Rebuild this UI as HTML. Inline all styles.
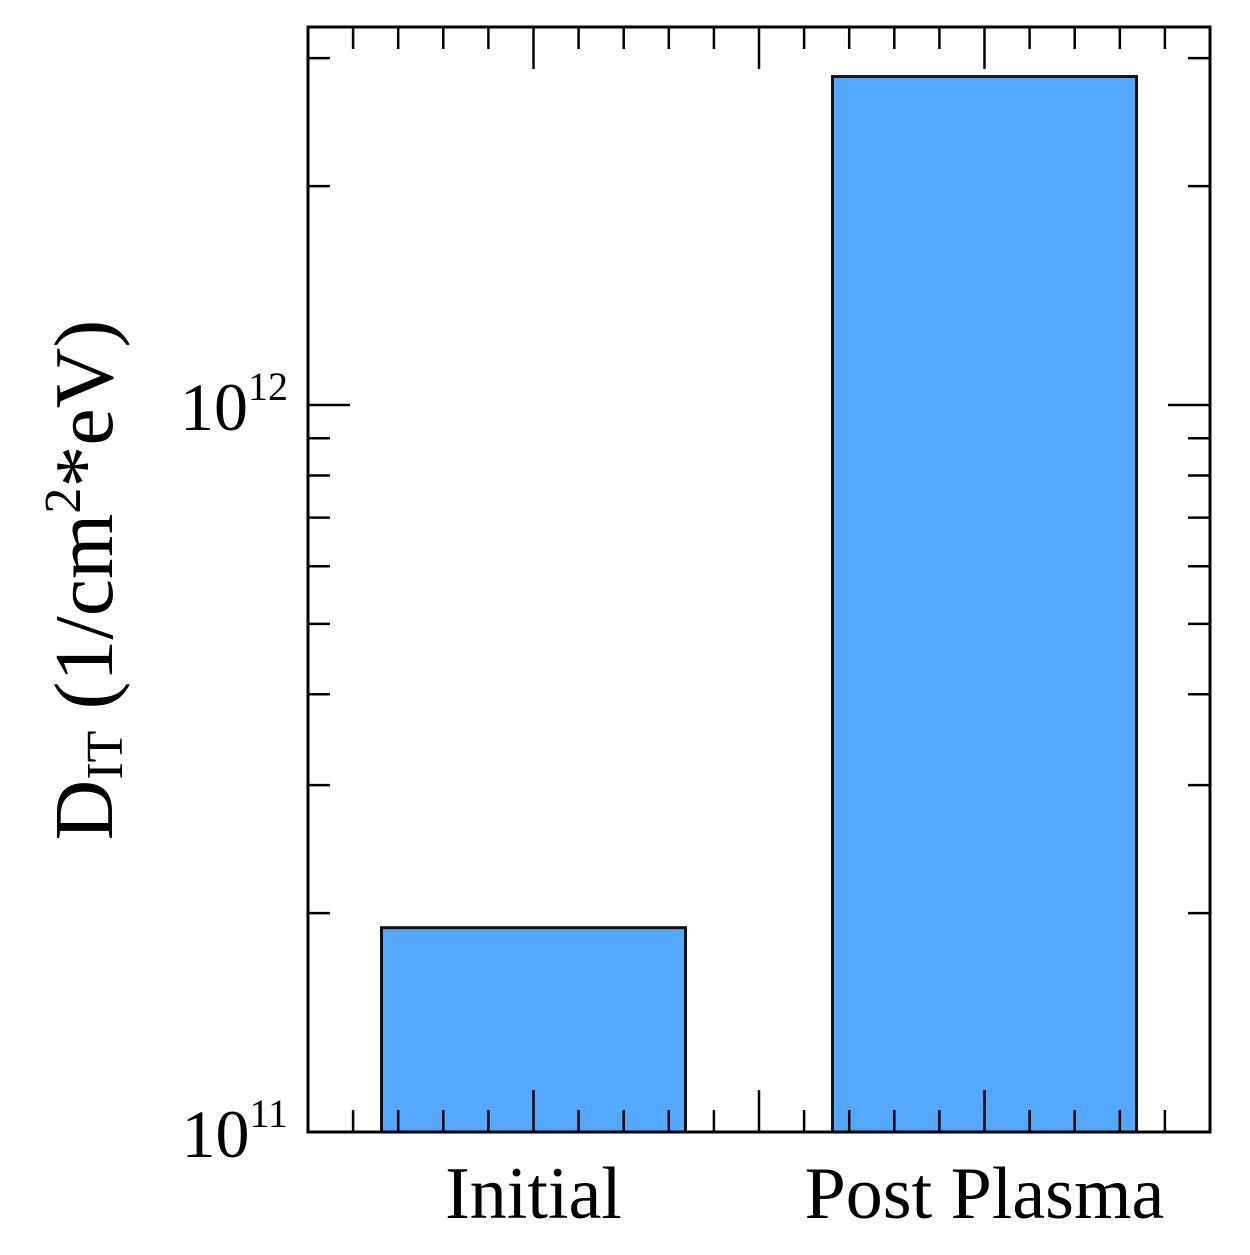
<!DOCTYPE html>
<html><head><meta charset="utf-8"><style>
html,body{margin:0;padding:0;background:#fff;}
svg text{font-family:"Liberation Serif",serif;fill:#000;}
</style></head><body>
<svg id="chart" width="1250" height="1250" viewBox="0 0 1250 1250" xmlns="http://www.w3.org/2000/svg">
<g id="bars"></g>
<g id="ticks"></g>
<rect x="308" y="27" width="902" height="1105" fill="none" stroke="#000" stroke-width="3"/>
<text x="288" y="430" text-anchor="end" font-size="68">10<tspan font-size="40" dy="-30">12</tspan></text>
<text x="288" y="1157" text-anchor="end" font-size="68">10<tspan font-size="40" dy="-30">11</tspan></text>
<g id="xlabels"></g>
<text transform="translate(112,580) rotate(-90)" text-anchor="middle" font-size="84">D<tspan font-size="52" dy="10">IT</tspan><tspan dy="-10"> (1/cm</tspan><tspan font-size="52" dy="-32">2</tspan><tspan dy="32">*eV)</tspan></text>
</svg>
<script>
const categories = ["Initial", "Post Plasma"];
const values = [1.91e11, 2.83e12];
const yMinorTicks = [2e11,3e11,4e11,5e11,6e11,7e11,8e11,9e11,2e12,3e12];
const yMajorTicks = [1e11,1e12];

const L=308,R=1210,T=27,B=1132;
const dec=727;
function y(v){return B-(Math.log10(v)-11)*dec;}
const slot=(R-L)/4;
function xc(i){return L+slot*(1+2*i);}
const barW=304;
const ns="http://www.w3.org/2000/svg";
const bars=document.getElementById('bars');
categories.forEach((c,i)=>{
  const r=document.createElementNS(ns,'rect');
  
  
  r.setAttribute('x',xc(i)-barW/2);
  r.setAttribute('y',y(values[i]));
  r.setAttribute('width',barW);
  r.setAttribute('height',B-y(values[i]));
  r.setAttribute('fill','#55a8ff');
  r.setAttribute('stroke','#111');
  r.setAttribute('stroke-width','3');
  bars.appendChild(r);
  const t=document.createElementNS(ns,'text');
  
  
  t.setAttribute('x',xc(i));
  t.setAttribute('y',1218);
  t.setAttribute('text-anchor','middle');
  t.setAttribute('font-size','74');
  t.textContent=c;
  document.getElementById('xlabels').appendChild(t);
});
const tk=document.getElementById('ticks');
function line(x1,y1,x2,y2,name){
  const l=document.createElementNS(ns,'line');
  
  
  l.setAttribute('x1',x1);l.setAttribute('y1',y1);l.setAttribute('x2',x2);l.setAttribute('y2',y2);
  l.setAttribute('stroke','#000');l.setAttribute('stroke-width','2.5');
  tk.appendChild(l);
}
yMajorTicks.forEach(v=>{const yy=y(v);line(L,yy,L+42,yy,'y-major-tick');line(R,yy,R-42,yy,'y-major-tick');});
yMinorTicks.forEach(v=>{const yy=y(v);line(L,yy,L+22,yy,'y-minor-tick');line(R,yy,R-22,yy,'y-minor-tick');});
const step=slot/5;
for(let k=1;k<20;k++){
  const xx=L+k*step;
  const major=(k%5===0);
  const len=major?42:22;
  line(xx,B,xx,B-len,major?'x-major-tick':'x-minor-tick');
  line(xx,T,xx,T+len,major?'x-major-tick':'x-minor-tick');
}
</script>
</body></html>
